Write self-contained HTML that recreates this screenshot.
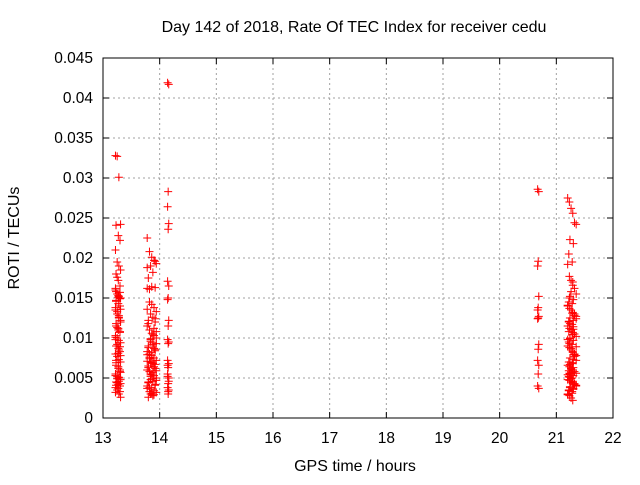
<!DOCTYPE html>
<html><head><meta charset="utf-8"><style>
body{margin:0;background:#fff;font-family:"Liberation Sans",sans-serif}
svg text{font-family:"Liberation Sans",sans-serif;font-size:15.5px;fill:#000}
</style></head><body>
<svg id="c" width="640" height="480">
<text x="354" y="32" text-anchor="middle" style="font-size:16px">Day 142 of 2018, Rate Of TEC Index for receiver cedu</text>
<text x="355" y="471" text-anchor="middle" style="font-size:16px">GPS time / hours</text>
<text transform="translate(19,238) rotate(-90)" text-anchor="middle" style="font-size:16px">ROTI / TECUs</text>
<g id="grid"></g><g id="ticks"></g><g id="pts"></g>
<rect x="103" y="58" width="510" height="360" fill="none" stroke="#000"/>
</svg>
<script>
const xTicks=[13,14,15,16,17,18,19,20,21,22];
const yTicks=[0,0.005,0.01,0.015,0.02,0.025,0.03,0.035,0.04,0.045];
const yTickLabels=["0","0.005","0.01","0.015","0.02","0.025","0.03","0.035","0.04","0.045"];
const xA=[13.22,13.25,13.28,13.31,13.23,13.27,13.3];
const yA=[0.0328,0.0327,0.0301,0.0242,0.0241,0.0228,0.0222,0.021,0.0195,0.019,0.0185,0.018,0.0172,0.0165,0.016,0.0155,0.0152,0.015,0.0147,0.0143,0.014,0.0135,0.013,0.0125,0.012,0.0115,0.011,0.0107,0.0103,0.01,0.0097,0.0094,0.009,0.0087,0.0083,0.008,0.0077,0.0073,0.007,0.0066,0.0062,0.0058,0.0055,0.0052,0.005,0.0048,0.0045,0.0042,0.004,0.0038,0.0035,0.003,0.0026,
0.0158,0.0153,0.0149,0.0138,0.0133,0.0128,0.0122,0.0118,0.0112,0.0108,0.0098,0.0092,0.0085,0.0078,0.0072,0.0064,0.006,0.0053,0.0049,0.0046,0.0043,0.0041,0.0037,0.0033,0.0032,0.0044,0.0051,0.0057,0.0069,0.0081,0.0089,0.0101,0.0113,0.0126,0.0136,0.0146,0.0151,0.0157,0.0162,0.0176];
const xB=[13.78,13.82,13.86,13.9,13.94,13.84,13.88,13.8,13.92];
const yB=[0.0225,0.0208,0.0201,0.0197,0.0193,0.019,0.0182,0.0175,0.0163,0.0162,0.0145,0.0142,0.0138,0.0133,0.013,0.0126,0.0122,0.012,0.0115,0.011,0.0106,0.0103,0.01,0.0096,0.0092,0.009,0.0086,0.0083,0.008,0.0078,0.0075,0.0072,0.007,0.0068,0.0065,0.0062,0.006,0.0058,0.0055,0.0053,0.005,0.0048,0.0046,0.0044,0.0042,0.004,0.0038,0.0036,0.0034,0.0032,0.003,0.0028,0.0026,
0.0196,0.0188,0.0161,0.0164,0.0112,0.0108,0.0098,0.0094,0.0088,0.0084,0.0079,0.0074,0.0069,0.0064,0.0059,0.0054,0.0049,0.0045,0.0041,0.0037,0.0033,0.0031,0.0029,0.0047,0.0052,0.0057,0.0063,0.0067,0.0071,0.0076,0.0082,0.0087,0.0093,0.0099,0.0104,0.0118,0.0124,0.0136];
const xC=[14.14,14.16,14.15];
const yC=[0.0419,0.0417,0.0283,0.0264,0.0243,0.0236,0.0171,0.0165,0.015,0.0148,0.0122,0.0115,0.0098,0.0095,0.0093,0.0072,0.0068,0.0063,0.0055,0.005,0.0043,0.0038,0.0035,0.003,0.0052,0.0046,0.0033,0.0066];
const xD=[20.67,20.69,20.68];
const yD=[0.0286,0.0283,0.0196,0.019,0.0152,0.0138,0.0135,0.0127,0.0125,0.0124,0.0092,0.0086,0.0072,0.0066,0.0055,0.004,0.0037];
const xE=[21.2,21.23,21.26,21.29,21.32,21.35,21.24,21.3,21.22,21.28];
const yE=[0.0275,0.027,0.0262,0.0256,0.0244,0.0242,0.0223,0.0218,0.0205,0.0195,0.0192,0.0177,0.0172,0.017,0.0162,0.0155,0.0152,0.0148,0.0145,0.0143,0.014,0.0137,0.0135,0.0132,0.013,0.0127,0.0125,0.0122,0.012,0.0117,0.0115,0.0112,0.011,0.0107,0.0105,0.0102,0.01,0.0097,0.0095,0.0092,0.009,0.0088,0.0085,0.0083,0.008,0.0078,0.0075,0.0073,0.007,0.0068,0.0066,0.0064,0.0062,0.006,0.0058,0.0056,0.0055,0.0053,0.0052,0.005,0.0048,0.0047,0.0045,0.0044,0.0042,0.004,0.0038,0.0036,0.0035,0.0033,0.003,0.0028,0.0025,0.0022,
0.0128,0.0124,0.0118,0.0114,0.0108,0.0104,0.0098,0.0093,0.0087,0.0082,0.0077,0.0072,0.0067,0.0063,0.0059,0.0057,0.0054,0.0051,0.0049,0.0046,0.0043,0.0041,0.0039,0.0037,0.0034,0.0031,0.0029,0.0056,0.0061,0.0069,0.0079,0.0089,0.0099,0.0111,0.0121,0.0131,0.0141,0.015,0.0158,0.0166];
const X=v=>103+(v-13)/9*510, Y=v=>418-v/0.045*360;
const NS="http://www.w3.org/2000/svg";
const grid=document.getElementById('grid'),ticks=document.getElementById('ticks'),pts=document.getElementById('pts');
function el(t,a,p){const e=document.createElementNS(NS,t);for(const k in a)e.setAttribute(k,a[k]);p.appendChild(e);return e;}
xTicks.forEach((v,i)=>{const x=X(v);
 if(i>0&&i<xTicks.length-1){const g=el('line',{x1:x,x2:x,y1:58,y2:418,stroke:'#a0a0a0','stroke-dasharray':'2,3'},grid);
 
 }
 el('line',{x1:x,x2:x,y1:418,y2:412,stroke:'#000'},ticks);el('line',{x1:x,x2:x,y1:58,y2:64,stroke:'#000'},ticks);
 const t=el('text',{x:x,y:443,'text-anchor':'middle'},ticks);t.textContent=v;
 
 });
yTicks.forEach((v,i)=>{const y=Y(v);
 if(i>0&&i<yTicks.length-1){const g=el('line',{x1:103,x2:613,y1:y,y2:y,stroke:'#a0a0a0','stroke-dasharray':'2,3'},grid);
 
 }
 el('line',{x1:103,x2:109,y1:y,y2:y,stroke:'#000'},ticks);el('line',{x1:613,x2:607,y1:y,y2:y,stroke:'#000'},ticks);
 const t=el('text',{x:93,y:y+5,'text-anchor':'end'},ticks);t.textContent=yTickLabels[i];
 
 });
function plot(xs,ys){ys.forEach((v,i)=>{const x=X(xs[i%xs.length]),y=Y(v);
 const p=el('path',{d:`M${x-4},${y}h8M${x},${y-4}v8`,stroke:'#ff0000','stroke-width':1},pts);
 
 });}
plot(xA,yA);plot(xB,yB);plot(xC,yC);plot(xD,yD);plot(xE,yE);
</script>
</body></html>
